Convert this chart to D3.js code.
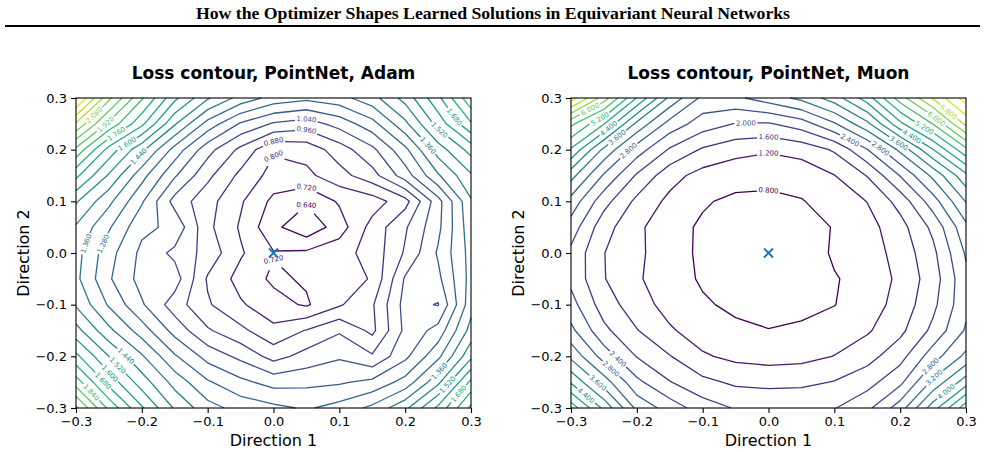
<!DOCTYPE html>
<html>
<head>
<meta charset="utf-8">
<script src="https://cdn.jsdelivr.net/npm/d3@7"></script>
<style>
  body { margin: 0; background: #fff; }
</style>
</head>
<body>
<div id="chart"></div>
<script>
// sample positions of the loss grid along Direction 1 and Direction 2
var gridSteps = [-0.3, -0.25, -0.2, -0.15, -0.1, -0.05, 0, 0.05, 0.1, 0.15, 0.2, 0.25, 0.3];
var axisTicks = [-0.3, -0.2, -0.1, 0, 0.1, 0.2, 0.3];

var adamLevels = [0.64, 0.72, 0.80, 0.88, 0.96, 1.04, 1.12, 1.20, 1.28, 1.36, 1.44, 1.52,
  1.60, 1.68, 1.76, 1.84, 1.92, 2.00, 2.08, 2.16, 2.24, 2.32, 2.40];
var muonLevels = [0.8, 1.2, 1.6, 2.0, 2.4, 2.8, 3.2, 3.6, 4.0, 4.4, 4.8, 5.2, 5.6, 6.0,
  6.4, 6.8, 7.2, 7.6];

// loss values, one row per Direction 2 value, from 0.3 (top) down to -0.3
var adamLoss = [
  [2.42, 2.10, 1.85, 1.62, 1.45, 1.33, 1.25, 1.22, 1.25, 1.33, 1.47, 1.66, 1.90],
  [2.15, 1.90, 1.70, 1.45, 1.25, 1.11, 1.03, 1.00, 1.07, 1.17, 1.34, 1.55, 1.75],
  [1.90, 1.65, 1.46, 1.25, 1.07, 0.94, 0.81, 0.83, 0.92, 1.02, 1.18, 1.40, 1.55],
  [1.70, 1.51, 1.31, 1.13, 0.98, 0.86, 0.77, 0.78, 0.85, 0.93, 1.08, 1.27, 1.43],
  [1.53, 1.38, 1.21, 1.01, 0.91, 0.81, 0.70, 0.65, 0.73, 0.76, 0.85, 1.09, 1.35],
  [1.43, 1.29, 1.14, 1.10, 0.90, 0.79, 0.66, 0.58, 0.68, 0.83, 0.95, 1.10, 1.33],
  [1.39, 1.23, 1.10, 1.02, 0.93, 0.81, 0.725, 0.735, 0.77, 0.83, 0.97, 1.13, 1.31],
  [1.38, 1.21, 1.09, 1.08, 0.87, 0.77, 0.705, 0.73, 0.74, 0.81, 1.05, 1.10, 1.31],
  [1.43, 1.27, 1.13, 1.00, 0.89, 0.81, 0.75, 0.71, 0.79, 0.87, 1.07, 1.035, 1.33],
  [1.55, 1.38, 1.24, 1.09, 0.97, 0.90, 0.82, 0.885, 0.95, 0.86, 1.06, 1.15, 1.39],
  [1.70, 1.52, 1.37, 1.21, 1.09, 1.02, 0.93, 0.99, 1.03, 0.97, 1.10, 1.26, 1.50],
  [1.88, 1.65, 1.48, 1.33, 1.21, 1.14, 1.09, 1.10, 1.11, 1.14, 1.23, 1.42, 1.70],
  [2.10, 1.82, 1.61, 1.43, 1.31, 1.25, 1.22, 1.19, 1.23, 1.30, 1.42, 1.62, 1.86]
];

var muonLoss = [
  [7.40, 6.20, 4.78, 3.50, 2.70, 2.72, 3.00, 3.30, 3.80, 4.60, 5.80, 6.85, 7.80],
  [5.70, 4.82, 3.50, 2.65, 2.20, 1.98, 1.96, 2.20, 2.75, 3.50, 4.70, 5.62, 6.90],
  [4.75, 3.50, 2.60, 1.95, 1.55, 1.35, 1.25, 1.35, 1.65, 2.38, 3.30, 4.38, 5.50],
  [3.75, 2.75, 1.95, 1.35, 1.05, 0.92, 0.88, 0.95, 1.19, 1.62, 2.42, 3.30, 4.30],
  [3.05, 2.15, 1.50, 1.10, 0.83, 0.74, 0.74, 0.78, 0.95, 1.21, 1.75, 2.62, 3.62],
  [2.62, 1.75, 1.30, 0.90, 0.76, 0.63, 0.60, 0.65, 0.82, 1.05, 1.45, 2.10, 3.10],
  [2.30, 1.61, 1.28, 0.98, 0.72, 0.60, 0.55, 0.62, 0.84, 1.00, 1.35, 1.90, 2.85],
  [2.30, 1.62, 1.25, 0.98, 0.75, 0.62, 0.57, 0.62, 0.78, 0.90, 1.30, 1.80, 2.70],
  [2.55, 1.80, 1.38, 1.05, 0.85, 0.72, 0.68, 0.70, 0.79, 1.00, 1.35, 1.90, 2.70],
  [2.90, 2.10, 1.62, 1.25, 1.00, 0.88, 0.81, 0.86, 0.98, 1.15, 1.50, 2.10, 2.85],
  [3.50, 2.62, 1.98, 1.62, 1.25, 1.10, 1.05, 1.08, 1.21, 1.45, 1.85, 2.62, 3.30],
  [4.35, 3.40, 2.50, 2.02, 1.70, 1.53, 1.48, 1.50, 1.62, 1.85, 2.30, 3.30, 4.22],
  [5.45, 4.30, 3.10, 2.62, 2.20, 1.97, 1.96, 1.97, 1.98, 2.30, 3.00, 4.22, 5.45]
];

var svgWidth = 985;
var svgHeight = 452;
var plotTop = 98;
var plotW = 395;
var plotH = 310;

var panels = [
  {title: "Loss contour, PointNet, Adam", loss: adamLoss, levels: adamLevels, left: 76},
  {title: "Loss contour, PointNet, Muon", loss: muonLoss, levels: muonLevels, left: 571}
];

var svg = d3.select("#chart")
  .append("svg")
  .attr("width", svgWidth)
  .attr("height", svgHeight)
  .style("font-family", "'DejaVu Sans', sans-serif");

// paper header with rule
svg.append("text")
  .attr("x", 493)
  .attr("y", 19)
  .attr("text-anchor", "middle")
  .attr("textLength", 594)
  .attr("lengthAdjust", "spacingAndGlyphs")
  .style("font-family", "'Liberation Serif', serif")
  .style("font-weight", "bold")
  .style("font-size", "16px")
  .text("How the Optimizer Shapes Learned Solutions in Equivariant Neural Networks");

svg.append("line")
  .attr("x1", 5).attr("x2", 980)
  .attr("y1", 26).attr("y2", 26)
  .attr("stroke", "#000")
  .attr("stroke-width", 2);

//split a contour ring into the parts that lie inside the sampled grid
function ringPieces(ring, n) {
  var lo = 0.5 - 1e-9, hi = n - 0.5 + 1e-9;
  var pts = ring.slice(0, ring.length - 1);
  var inside = pts.map(function(q) {
    return q[0] >= lo && q[0] <= hi && q[1] >= lo && q[1] <= hi;
  });
  var k = inside.indexOf(false);
  if (k < 0) return [{pts: ring, closed: true}];
  var pieces = [], cur = [];
  for (var m = 1; m <= pts.length; m++) {
    var idx = (k + m) % pts.length;
    if (inside[idx]) cur.push(pts[idx]);
    else {
      if (cur.length > 1) pieces.push({pts: cur, closed: false});
      cur = [];
    }
  }
  return pieces;
}

function arcTable(pts) {
  var L = [0];
  for (var i = 1; i < pts.length; i++) {
    L.push(L[i - 1] + Math.hypot(pts[i][0] - pts[i - 1][0], pts[i][1] - pts[i - 1][1]));
  }
  return L;
}

function pointAt(pts, L, s) {
  var i = d3.bisectRight(L, s) - 1;
  i = Math.max(0, Math.min(i, pts.length - 2));
  var seg = (L[i + 1] - L[i]) || 1;
  var t = (s - L[i]) / seg;
  return [pts[i][0] + t * (pts[i + 1][0] - pts[i][0]), pts[i][1] + t * (pts[i + 1][1] - pts[i][1])];
}

function subPath(pts, L, a, b) {
  var out = [pointAt(pts, L, a)];
  for (var i = 0; i < pts.length; i++) {
    if (L[i] > a && L[i] < b) out.push(pts[i]);
  }
  out.push(pointAt(pts, L, b));
  return out;
}

function drawPanel(p) {
  var x = d3.scaleLinear().domain([-0.3, 0.3]).range([p.left, p.left + plotW]);
  var y = d3.scaleLinear().domain([-0.3, 0.3]).range([plotTop + plotH, plotTop]);
  var n = gridSteps.length;

  // contour space -> pixels (sample i sits at i + 0.5, row 0 is the top row)
  var gx = d3.scaleLinear().domain([0.5, n - 0.5]).range([x(gridSteps[0]), x(gridSteps[n - 1])]);
  var gy = d3.scaleLinear().domain([0.5, n - 0.5]).range([y(gridSteps[n - 1]), y(gridSteps[0])]);

  var levels = p.levels;
  var color = d3.scaleSequential(d3.interpolateViridis)
    .domain([levels[0], levels[levels.length - 1]]);

  var contours = d3.contours()
    .size([n, n])
    .thresholds(levels)(p.loss.flat());

  var g = svg.append("g");
  var labelsG = svg.append("g");
  var line = d3.line();
  var placed = [];
  var fmt = d3.format(".3f");
  var fontSize = 7;
  var hw = 11.5;

  contours.forEach(function(c) {
    var col = color(c.value);
    c.coordinates.forEach(function(poly) {
      poly.forEach(function(ring) {
        ringPieces(ring, n).forEach(function(piece) {
          var px = piece.pts.map(function(q) { return [gx(q[0]), gy(q[1])]; });
          var s;
          if (piece.closed) {
            var r = px.slice(0, -1);
            var topI = d3.minIndex(r, function(q) { return q[1]; });
            var start = (topI + Math.floor(r.length / 2)) % r.length;
            var rot = r.slice(start).concat(r.slice(0, start));
            rot.push(rot[0]);
            px = rot;
            var Lr = arcTable(px);
            s = Lr[(topI - start + r.length) % r.length];
          }
          var L = arcTable(px);
          var total = L[L.length - 1];
          if (!piece.closed) s = total / 2;

          var ok = total > 2 * hw + 6 && s - hw > 0 && s + hw < total;
          var ctr;
          if (ok) {
            ctr = pointAt(px, L, s);
            if (ctr[0] < p.left + 6 || ctr[0] > p.left + plotW - 6 ||
                ctr[1] < plotTop + 5 || ctr[1] > plotTop + plotH - 5) ok = false;
            placed.forEach(function(o) {
              if (Math.hypot(o[0] - ctr[0], o[1] - ctr[1]) < 10) ok = false;
            });
          }

          if (!ok) {
            g.append("path").attr("d", line(px))
              .attr("fill", "none").attr("stroke", col)
              .attr("stroke-width", 1.3).attr("stroke-linejoin", "round");
            return;
          }

          placed.push(ctr);
          var a = subPath(px, L, 0, s - hw);
          var b = subPath(px, L, s + hw, total);
          var parts = piece.closed ? [b.concat(a.slice(1))] : [a, b];
          parts.forEach(function(part) {
            g.append("path").attr("d", line(part))
              .attr("fill", "none").attr("stroke", col)
              .attr("stroke-width", 1.3).attr("stroke-linejoin", "round");
          });

          var p1 = pointAt(px, L, s - hw), p2 = pointAt(px, L, s + hw);
          var ang = Math.atan2(p2[1] - p1[1], p2[0] - p1[0]) * 180 / Math.PI;
          if (ang > 90) ang -= 180;
          if (ang < -90) ang += 180;
          labelsG.append("text")
            .attr("transform", "translate(" + ctr[0] + "," + ctr[1] + ") rotate(" + ang + ")")
            .attr("text-anchor", "middle")
            .attr("dy", "0.35em")
            .attr("fill", col)
            .style("font-size", fontSize + "px")
            .text(fmt(c.value));
        });
      });
    });
  });

  // centre marker
  svg.append("path")
    .attr("transform", "translate(" + x(0) + "," + y(0) + ")")
    .attr("d", "M-4.5,-4.5L4.5,4.5M-4.5,4.5L4.5,-4.5")
    .attr("stroke", "#1f77b4")
    .attr("stroke-width", 2)
    .attr("fill", "none");

  // frame
  svg.append("rect")
    .attr("x", p.left).attr("y", plotTop)
    .attr("width", plotW).attr("height", plotH)
    .attr("fill", "none")
    .attr("stroke", "#000")
    .attr("stroke-width", 1.1);

  var bottomAxis = d3.axisBottom(x).tickValues(axisTicks).tickFormat(d3.format(".1f"))
    .tickSize(5).tickPadding(4).tickSizeOuter(0);
  var leftAxis = d3.axisLeft(y).tickValues(axisTicks).tickFormat(d3.format(".1f"))
    .tickSize(5).tickPadding(4).tickSizeOuter(0);

  var xa = svg.append("g")
    .attr("transform", "translate(0," + (plotTop + plotH) + ")")
    .call(bottomAxis);
  var ya = svg.append("g")
    .attr("transform", "translate(" + p.left + ",0)")
    .call(leftAxis);
  [xa, ya].forEach(function(ax) {
    ax.select(".domain").remove();
    ax.selectAll("text").style("font-size", "13px").style("font-family", "'DejaVu Sans', sans-serif")
      .attr("fill", "#000");
    ax.selectAll("line").attr("stroke", "#000").attr("stroke-width", 1.1);
  });

  svg.append("text")
    .attr("x", p.left + plotW / 2)
    .attr("y", 79)
    .attr("text-anchor", "middle")
    .style("font-weight", "bold")
    .style("font-size", "17px")
    .text(p.title);

  svg.append("text")
    .attr("x", p.left + plotW / 2)
    .attr("y", 446)
    .attr("text-anchor", "middle")
    .style("font-size", "16px")
    .text("Direction 1");

  svg.append("text")
    .attr("transform", "translate(" + (p.left - 47) + "," + (plotTop + plotH / 2) + ") rotate(-90)")
    .attr("text-anchor", "middle")
    .style("font-size", "16px")
    .text("Direction 2");
}

panels.forEach(drawPanel);
</script>
</body>
</html>
